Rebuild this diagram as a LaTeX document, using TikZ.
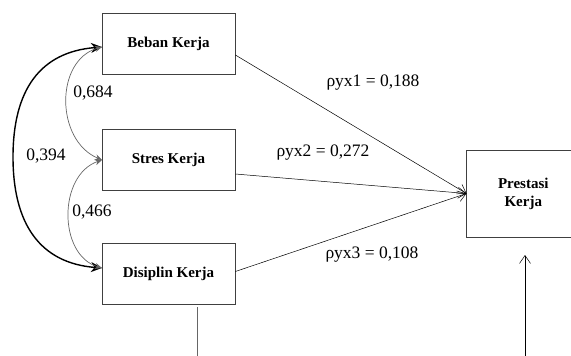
\documentclass[tikz,border=0pt]{standalone}
\usepackage{fontspec}
\setmainfont{Liberation Serif}
\usetikzlibrary{arrows.meta}
\begin{document}
\begin{tikzpicture}[x=1pt,y=-1pt,
  box/.style={draw=black!75,line width=0.7pt,minimum width=133pt,minimum height=61pt,inner sep=0pt,font=\fontsize{15}{18}\selectfont\bfseries,align=center},
  lbl/.style={font=\fontsize{17.5}{19}\selectfont,inner sep=0pt},
  path/.style={draw=black,line width=0.5pt,-{Straight Barb[length=8pt,width=11pt]}},
  corouter/.style={draw=black,line width=1.4pt,{Stealth[length=11pt,width=10pt]}-{Stealth[length=11pt,width=10pt]}},
  corinner/.style={draw=black!60,line width=0.7pt,{Stealth[length=7pt,width=6pt]}-{Stealth[length=7pt,width=6pt]}}]
\useasboundingbox (0,0) rectangle (571,356);
\begin{scope}
\clip (0,0) rectangle (571,356);
\node[box] (B) at (168.5,43.5) {Beban Kerja};
\node[box] (S) at (168.5,159.5) {Stres Kerja};
\node[box] (D) at (168.5,273.5) {Disiplin Kerja};
\node[box,minimum width=113pt,minimum height=87pt,text width=100pt] (P) at (523.3,193.5) {Prestasi\\Kerja};
\end{scope}
\coordinate (b1) at (102,47);
\coordinate (s1) at (102,160);
\coordinate (d1) at (102,268);
\coordinate (m1) at (13,157);
\draw[corouter] (b1) .. controls (40,52) and (13,90) .. (m1) .. controls (13,224) and (40,263) .. (d1);
\draw[corinner] (b1) .. controls (55,60) and (55,140) .. (s1);
\draw[corinner] (s1) .. controls (58,175) and (58,255) .. (d1);
\draw[path] ([yshift=-11.5pt]B.east) -- (P.west);
\draw[path] ([yshift=-14.5pt]S.east) -- (P.west);
\draw[path] ([yshift=2pt]D.east) -- (P.west);
\coordinate (e1) at (197,307);
\coordinate (e1b) at (197,357);
\draw[black!60,line width=1pt] (e1) -- (e1b);
\coordinate (e2) at (525,357);
\coordinate (e2t) at (525,255);
\draw[path] (e2) -- (e2t);
\node[lbl] (l1) at (373,83) {ρyx1 = 0,188};
\node[lbl] (l2) at (323,153) {ρyx2 = 0,272};
\node[lbl] (l3) at (372,255) {ρyx3 = 0,108};
\node[lbl] (c1) at (93,93) {0,684};
\node[lbl] (c2) at (46,156) {0,394};
\node[lbl] (c3) at (92,212) {0,466};
\end{tikzpicture}
\end{document}
